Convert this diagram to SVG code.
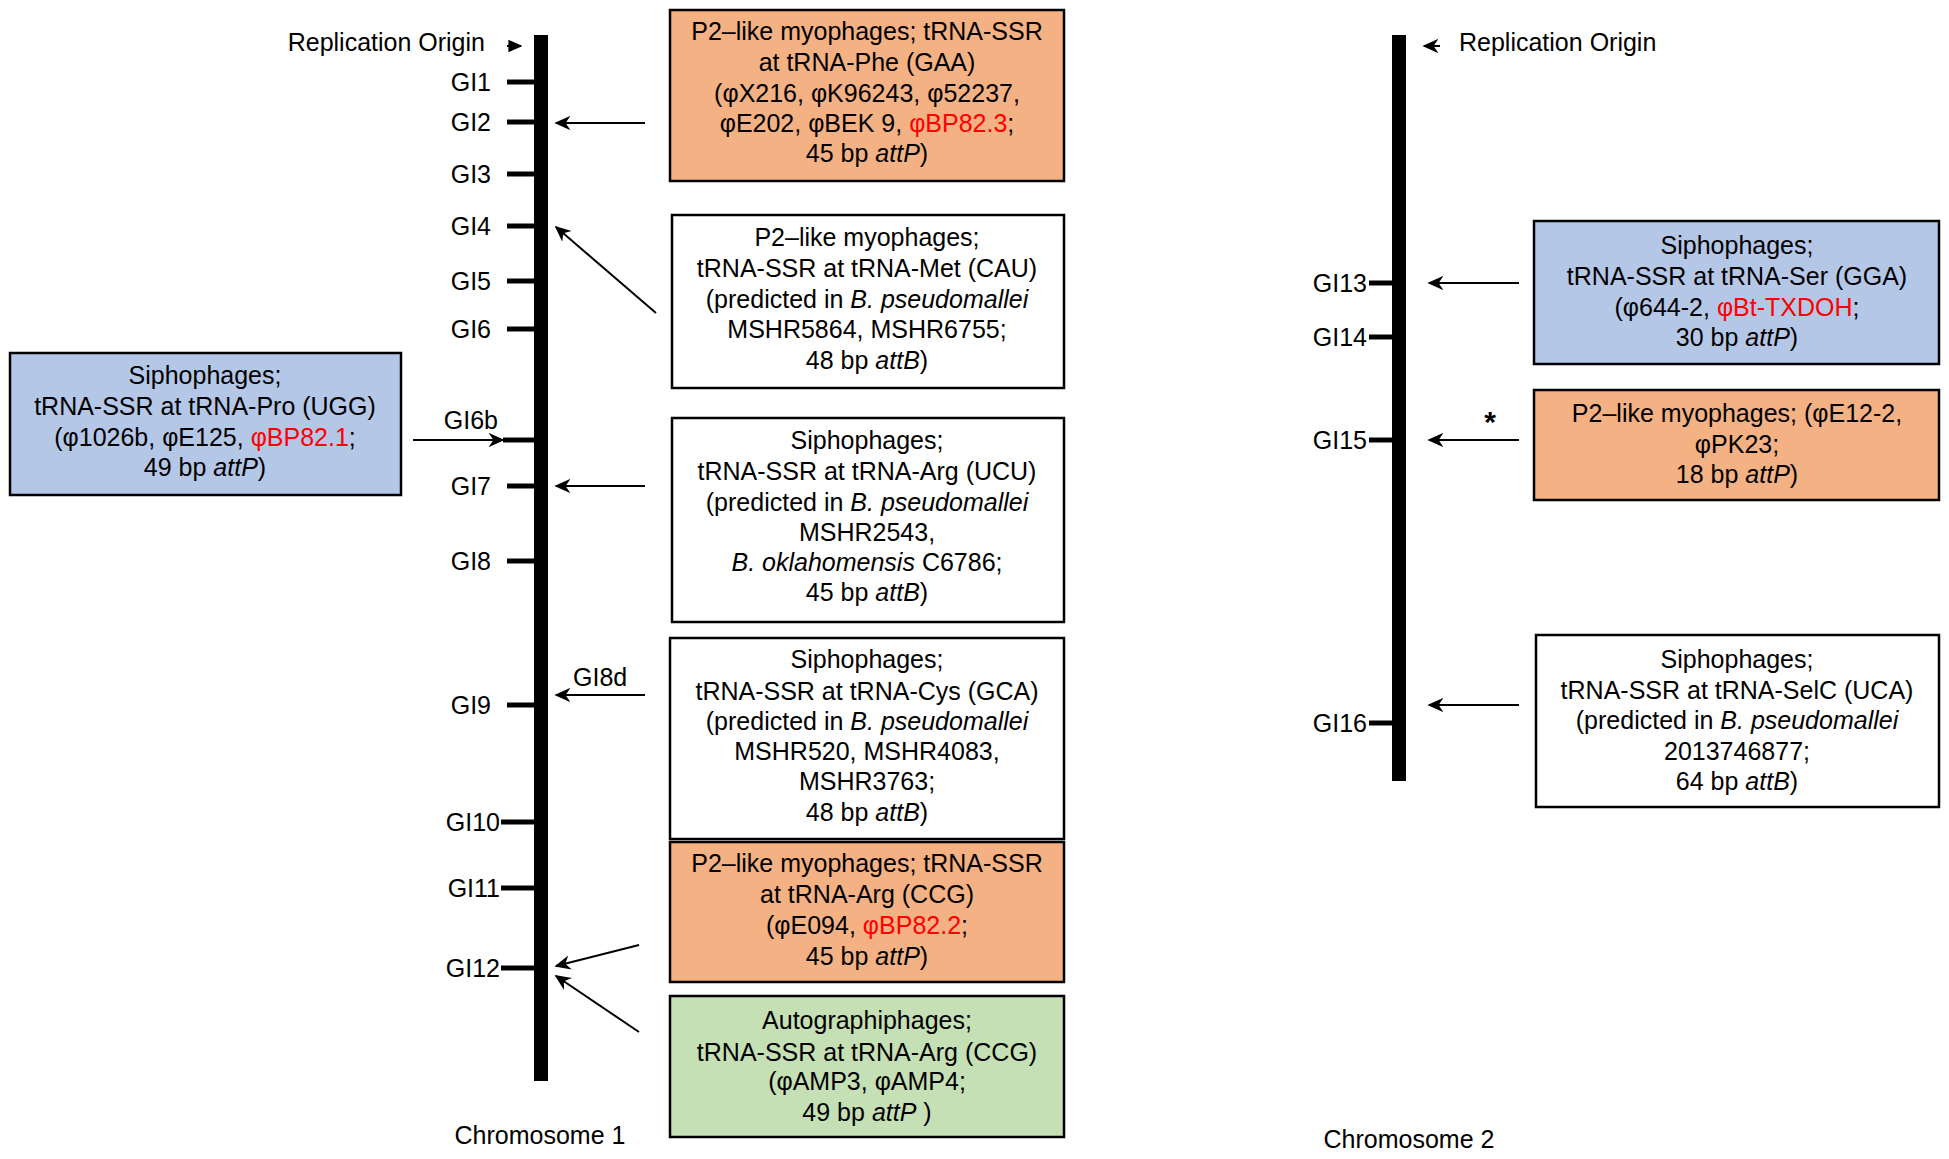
<svg xmlns="http://www.w3.org/2000/svg" width="1949" height="1159" viewBox="0 0 1949 1159">
<style>
text{font-family:"Liberation Sans",Arial,sans-serif;font-size:25px;fill:#000}
.c{text-anchor:middle}
.r{text-anchor:end}
.i{font-style:italic}
.red{fill:#FF0000}
.box{stroke:#000;stroke-width:2.5}
.org{fill:#F4B183}
.blu{fill:#B4C7E7}
.grn{fill:#C5E0B4}
.wht{fill:#FFFFFF}
.bar{fill:#000}
.tick{stroke:#000;stroke-width:5}
.arr{stroke:#000;stroke-width:2;fill:none;marker-end:url(#ah)}
.ori{stroke:#000;stroke-width:2;fill:none;marker-end:url(#oh)}
</style>
<defs>
<marker id="ah" viewBox="0 0 10 10" refX="9" refY="5" markerWidth="8" markerHeight="8" orient="auto" markerUnits="strokeWidth">
<path d="M0,0.5 L10,5 L0,9.5 L3,5 z" fill="#000"/>
</marker>
<marker id="oh" viewBox="0 0 10 10" refX="9" refY="5" markerWidth="7" markerHeight="7" orient="auto" markerUnits="strokeWidth">
<path d="M0,0.5 L10,5 L0,9.5 z" fill="#000"/>
</marker>
</defs>
<rect width="1949" height="1159" fill="#fff"/>

<g id="chromosome1">
<rect class="bar" x="534" y="35" width="14" height="1046"/>
<text class="r" x="485" y="51">Replication Origin</text>
<text class="c" x="540" y="1144">Chromosome 1</text>
<line class="tick" x1="507" y1="82" x2="534" y2="82"/><text class="r" x="491" y="91">GI1</text>
<line class="tick" x1="507" y1="122" x2="534" y2="122"/><text class="r" x="491" y="131">GI2</text>
<line class="tick" x1="507" y1="174" x2="534" y2="174"/><text class="r" x="491" y="183">GI3</text>
<line class="tick" x1="507" y1="226" x2="534" y2="226"/><text class="r" x="491" y="235">GI4</text>
<line class="tick" x1="507" y1="281" x2="534" y2="281"/><text class="r" x="491" y="290">GI5</text>
<line class="tick" x1="507" y1="329" x2="534" y2="329"/><text class="r" x="491" y="338">GI6</text>
<line class="tick" x1="503" y1="440" x2="534" y2="440"/><text class="r" x="498" y="429">GI6b</text>
<line class="tick" x1="507" y1="486" x2="534" y2="486"/><text class="r" x="491" y="495">GI7</text>
<line class="tick" x1="507" y1="561" x2="534" y2="561"/><text class="r" x="491" y="570">GI8</text>
<line class="tick" x1="507" y1="705" x2="534" y2="705"/><text class="r" x="491" y="714">GI9</text>
<text x="573" y="686">GI8d</text>
<line class="tick" x1="501" y1="822" x2="534" y2="822"/><text class="r" x="500" y="831">GI10</text>
<line class="tick" x1="501" y1="888" x2="534" y2="888"/><text class="r" x="500" y="897">GI11</text>
<line class="tick" x1="501" y1="968" x2="534" y2="968"/><text class="r" x="500" y="977">GI12</text>
</g>

<g id="chromosome2">
<rect class="bar" x="1392" y="35" width="14" height="746"/>
<text x="1459" y="51">Replication Origin</text>
<text class="c" x="1409" y="1148">Chromosome 2</text>
<line class="tick" x1="1369" y1="283" x2="1392" y2="283"/><text class="r" x="1367" y="292">GI13</text>
<line class="tick" x1="1369" y1="337" x2="1392" y2="337"/><text class="r" x="1367" y="346">GI14</text>
<line class="tick" x1="1369" y1="440" x2="1392" y2="440"/><text class="r" x="1367" y="449">GI15</text>
<line class="tick" x1="1369" y1="723" x2="1392" y2="723"/><text class="r" x="1367" y="732">GI16</text>
<text class="c" x="1490" y="432" style="font-size:30px;font-weight:bold">*</text>
</g>

<g id="box-phe">
<rect class="box org" x="670" y="10" width="394" height="171"/>
<text class="c" x="867" y="40">P2–like myophages; tRNA-SSR</text>
<text class="c" x="867" y="71">at tRNA-Phe (GAA)</text>
<text class="c" x="867" y="102">(φX216, φK96243, φ52237,</text>
<text class="c" x="867" y="132">φE202, φBEK 9, <tspan class="red">φBP82.3</tspan>;</text>
<text class="c" x="867" y="162">45 bp <tspan class="i">attP</tspan>)</text>
</g>

<g id="box-met">
<rect class="box wht" x="672" y="215" width="392" height="173"/>
<text class="c" x="867" y="246">P2–like myophages;</text>
<text class="c" x="867" y="277">tRNA-SSR at tRNA-Met (CAU)</text>
<text class="c" x="867" y="308">(predicted in <tspan class="i">B. pseudomallei</tspan></text>
<text class="c" x="867" y="338">MSHR5864, MSHR6755;</text>
<text class="c" x="867" y="369">48 bp <tspan class="i">attB</tspan>)</text>
</g>

<g id="box-arg-ucu">
<rect class="box wht" x="672" y="418" width="392" height="204"/>
<text class="c" x="867" y="449">Siphophages;</text>
<text class="c" x="867" y="480">tRNA-SSR at tRNA-Arg (UCU)</text>
<text class="c" x="867" y="511">(predicted in <tspan class="i">B. pseudomallei</tspan></text>
<text class="c" x="867" y="541">MSHR2543,</text>
<text class="c" x="867" y="571"><tspan class="i">B. oklahomensis</tspan> C6786;</text>
<text class="c" x="867" y="601">45 bp <tspan class="i">attB</tspan>)</text>
</g>

<g id="box-cys">
<rect class="box wht" x="670" y="638" width="394" height="201"/>
<text class="c" x="867" y="668">Siphophages;</text>
<text class="c" x="867" y="700">tRNA-SSR at tRNA-Cys (GCA)</text>
<text class="c" x="867" y="730">(predicted in <tspan class="i">B. pseudomallei</tspan></text>
<text class="c" x="867" y="760">MSHR520, MSHR4083,</text>
<text class="c" x="867" y="790">MSHR3763;</text>
<text class="c" x="867" y="821">48 bp <tspan class="i">attB</tspan>)</text>
</g>

<g id="box-arg-ccg">
<rect class="box org" x="670" y="842" width="394" height="140"/>
<text class="c" x="867" y="872">P2–like myophages; tRNA-SSR</text>
<text class="c" x="867" y="903">at tRNA-Arg (CCG)</text>
<text class="c" x="867" y="934">(φE094, <tspan class="red">φBP82.2</tspan>;</text>
<text class="c" x="867" y="965">45 bp <tspan class="i">attP</tspan>)</text>
</g>

<g id="box-auto">
<rect class="box grn" x="670" y="996" width="394" height="141"/>
<text class="c" x="867" y="1029">Autographiphages;</text>
<text class="c" x="867" y="1061">tRNA-SSR at tRNA-Arg (CCG)</text>
<text class="c" x="867" y="1090">(φAMP3, φAMP4;</text>
<text class="c" x="867" y="1121">49 bp <tspan class="i">attP</tspan> )</text>
</g>

<g id="box-pro">
<rect class="box blu" x="10" y="353" width="391" height="142"/>
<text class="c" x="205" y="384">Siphophages;</text>
<text class="c" x="205" y="415">tRNA-SSR at tRNA-Pro (UGG)</text>
<text class="c" x="205" y="446">(φ1026b, φE125, <tspan class="red">φBP82.1</tspan>;</text>
<text class="c" x="205" y="476">49 bp <tspan class="i">attP</tspan>)</text>
</g>

<g id="box-ser">
<rect class="box blu" x="1534" y="221" width="405" height="143"/>
<text class="c" x="1737" y="254">Siphophages;</text>
<text class="c" x="1737" y="285">tRNA-SSR at tRNA-Ser (GGA)</text>
<text class="c" x="1737" y="316">(φ644-2, <tspan class="red">φBt-TXDOH</tspan>;</text>
<text class="c" x="1737" y="346">30 bp <tspan class="i">attP</tspan>)</text>
</g>

<g id="box-gi15">
<rect class="box org" x="1534" y="390" width="405" height="110"/>
<text class="c" x="1737" y="422">P2–like myophages; (φE12-2,</text>
<text class="c" x="1737" y="453">φPK23;</text>
<text class="c" x="1737" y="483">18 bp <tspan class="i">attP</tspan>)</text>
</g>

<g id="box-selc">
<rect class="box wht" x="1536" y="635" width="403" height="172"/>
<text class="c" x="1737" y="668">Siphophages;</text>
<text class="c" x="1737" y="699">tRNA-SSR at tRNA-SelC (UCA)</text>
<text class="c" x="1737" y="729">(predicted in <tspan class="i">B. pseudomallei</tspan></text>
<text class="c" x="1737" y="760">2013746877;</text>
<text class="c" x="1737" y="790">64 bp <tspan class="i">attB</tspan>)</text>
</g>

<g id="connectors">
<line class="ori" x1="507" y1="46" x2="521" y2="46"/>
<line class="arr" x1="1440" y1="46" x2="1424" y2="46"/>
<line class="arr" x1="645" y1="123" x2="556" y2="123"/>
<line class="arr" x1="656" y1="313" x2="556" y2="227"/>
<line class="arr" x1="413" y1="440" x2="503" y2="440"/>
<line class="arr" x1="645" y1="486" x2="556" y2="486"/>
<line class="arr" x1="645" y1="695" x2="556" y2="695"/>
<line class="arr" x1="639" y1="945" x2="556" y2="966"/>
<line class="arr" x1="639" y1="1032" x2="556" y2="976"/>
<line class="arr" x1="1519" y1="283" x2="1429" y2="283"/>
<line class="arr" x1="1519" y1="440" x2="1429" y2="440"/>
<line class="arr" x1="1519" y1="705" x2="1429" y2="705"/>
</g>
</svg>
